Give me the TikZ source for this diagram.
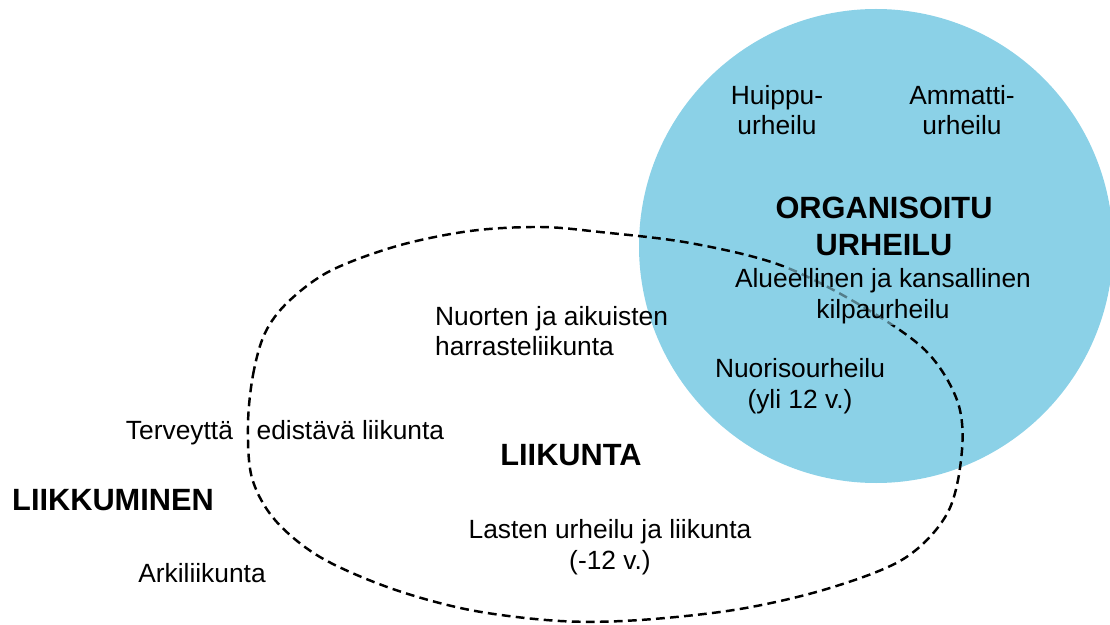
\documentclass[tikz,border=0pt]{standalone}
\usepackage{fontspec}
\setmainfont{Liberation Sans}
\usepackage{tikz}
\usetikzlibrary{positioning}
\definecolor{urheiluBlue}{RGB}{139,209,231}

\begin{document}
\begin{tikzpicture}[x=0.02cm, y=-0.02cm,
  txt/.style={font=\fontsize{15}{17.5}\selectfont, align=center, inner sep=1pt},
  head/.style={font=\fontsize{17.5}{21}\selectfont\bfseries, align=center, inner sep=1pt}]
\useasboundingbox (0,0) rectangle (1110,625);

% organisoitu urheilu
\fill[urheiluBlue] (876,246) circle (237);

% liikunta
\draw[black, line width=1.4pt, dash pattern=on 5pt off 3pt] plot[smooth cycle, tension=0.55] coordinates {
  (248,425) (253,375) (265,333) (288,302) (330,271) (397,246) (470,231) (540,227)
  (600,232) (690,243) (780,265) (860,305) (925,350) (957,400) (962,450) (948,512)
  (905,558) (830,588) (740,609) (640,620) (560,621) (470,610) (390,588) (320,557)
  (275,520) (252,478)};

\node[txt] (huippu) at (777,110) {Huippu-\\urheilu};
\node[txt] (ammatti) at (962,110) {Ammatti-\\urheilu};
\node[head] (organisoitu) at (884,226) {ORGANISOITU\\URHEILU};
\node[txt, fill=urheiluBlue, fill opacity=0.6, text opacity=1] (kilpa) at (883,296) {Alueellinen ja kansallinen\\kilpaurheilu};
\node[txt] (nuoriso) at (800,386) {Nuorisourheilu\\(yli 12 v.)};

\node[txt, align=left, anchor=west] (harraste) at (433,331) {Nuorten ja aikuisten\\harrasteliikunta};
\node[txt, anchor=base east] (terveys) at (235,439) {Terveyttä};
\node[txt, base right=0.39cm of terveys] (edistava) {edistävä liikunta};
\node[head, anchor=base] (liikunta) at (571,465) {LIIKUNTA};
\node[txt] (lapset) at (610,547) {Lasten urheilu ja liikunta\\(-12 v.)};

\node[head, anchor=base] (liikkuminen) at (113,510) {LIIKKUMINEN};
\node[txt, anchor=base] (arki) at (202,582) {Arkiliikunta};

\end{tikzpicture}
\end{document}
